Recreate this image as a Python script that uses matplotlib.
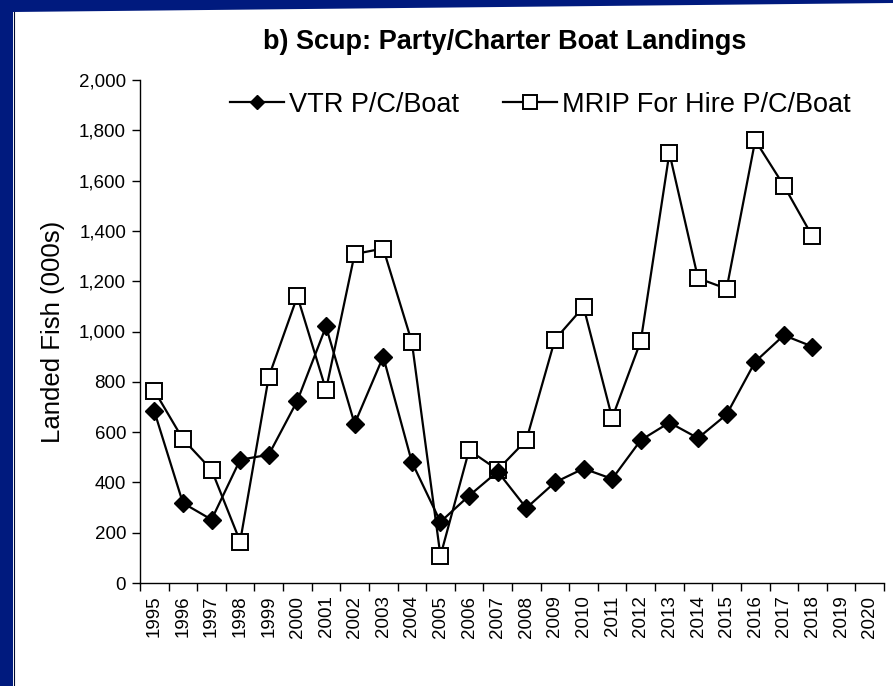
import matplotlib
matplotlib.use('Agg')
import matplotlib.pyplot as plt
from matplotlib.patches import Polygon
from matplotlib.ticker import FuncFormatter, FixedLocator

plt.rcParams['font.family'] = ['Liberation Sans', 'DejaVu Sans']

# Categories (years on the x axis) and the two landing series, 000s of fish
years = [str(y) for y in range(1995, 2021)]
vtr = [683, 318, 252, 490, 510, 725, 1020, 633, 900, 481, 243, 347, 443, 298,
       400, 455, 414, 568, 638, 576, 670, 880, 985, 940]
mrip = [765, 572, 450, 165, 820, 1140, 768, 1308, 1330, 958, 108, 528, 450, 568,
        968, 1098, 656, 962, 1710, 1212, 1170, 1760, 1580, 1378]

fig = plt.figure(figsize=(8.93, 6.86), dpi=100)
fig.patch.set_facecolor('white')

# navy slide border (left and top)
navy = '#001a7e'
fig.patches.append(Polygon([[0, 0], [13 / 893, 0], [13 / 893, 1 - 12 / 686],
                            [1, 1 - 3 / 686], [1, 1], [0, 1]],
                           closed=True, transform=fig.transFigure,
                           facecolor=navy, edgecolor='none', zorder=0))
fig.lines.append(plt.Line2D([13.5 / 893, 13.5 / 893], [0, 1 - 12 / 686],
                            transform=fig.transFigure, color='#000a30', lw=0.8))

ax = fig.add_axes([140 / 893, 1 - 583 / 686, 744 / 893, 503 / 686])

x_vtr = list(range(len(vtr)))
x_mrip = list(range(len(mrip)))
ax.plot(x_vtr, vtr, color='black', lw=1.6, marker='D', ms=9.5,
        mfc='black', mec='black', label='VTR P/C/Boat', zorder=3)
ax.plot(x_mrip, mrip, color='black', lw=1.6, marker='s', ms=12,
        mfc='white', mec='black', mew=1.4, label='MRIP For Hire P/C/Boat',
        zorder=2)

ax.set_xlim(-0.5, len(years) - 0.5)
ax.set_ylim(0, 2000)
ax.set_yticks(range(0, 2001, 200))
ax.yaxis.set_major_formatter(FuncFormatter(lambda v, p: f'{int(v):,}'))
ax.tick_params(axis='y', length=6, width=1, direction='out', labelsize=13.5,
               pad=4)

ax.set_xticks(range(len(years)))
ax.set_xticklabels(years, rotation=90, fontsize=13.5)
ax.xaxis.set_minor_locator(FixedLocator([i - 0.5 for i in range(len(years) + 1)]))
ax.tick_params(axis='x', which='major', length=0, pad=9)
ax.tick_params(axis='x', which='minor', length=6, width=1, direction='out')

for s in ['top', 'right']:
    ax.spines[s].set_visible(False)
for s in ['left', 'bottom']:
    ax.spines[s].set_linewidth(1)
    ax.spines[s].set_color('black')

ax.set_ylabel('Landed Fish (000s)', fontsize=18.5, labelpad=10)

fig.text(505 / 893, 1 - 42 / 686, 'b) Scup: Party/Charter Boat Landings',
         ha='center', va='center', fontsize=19.5, fontweight='bold')

ax.legend(loc='center', bbox_to_anchor=(0.538, 0.951), ncol=2, frameon=False,
          fontsize=19.5, handlelength=2.0, handletextpad=0.2, columnspacing=1.6,
          markerscale=0.8)

fig.savefig('out.png', dpi=100, facecolor=fig.get_facecolor())
